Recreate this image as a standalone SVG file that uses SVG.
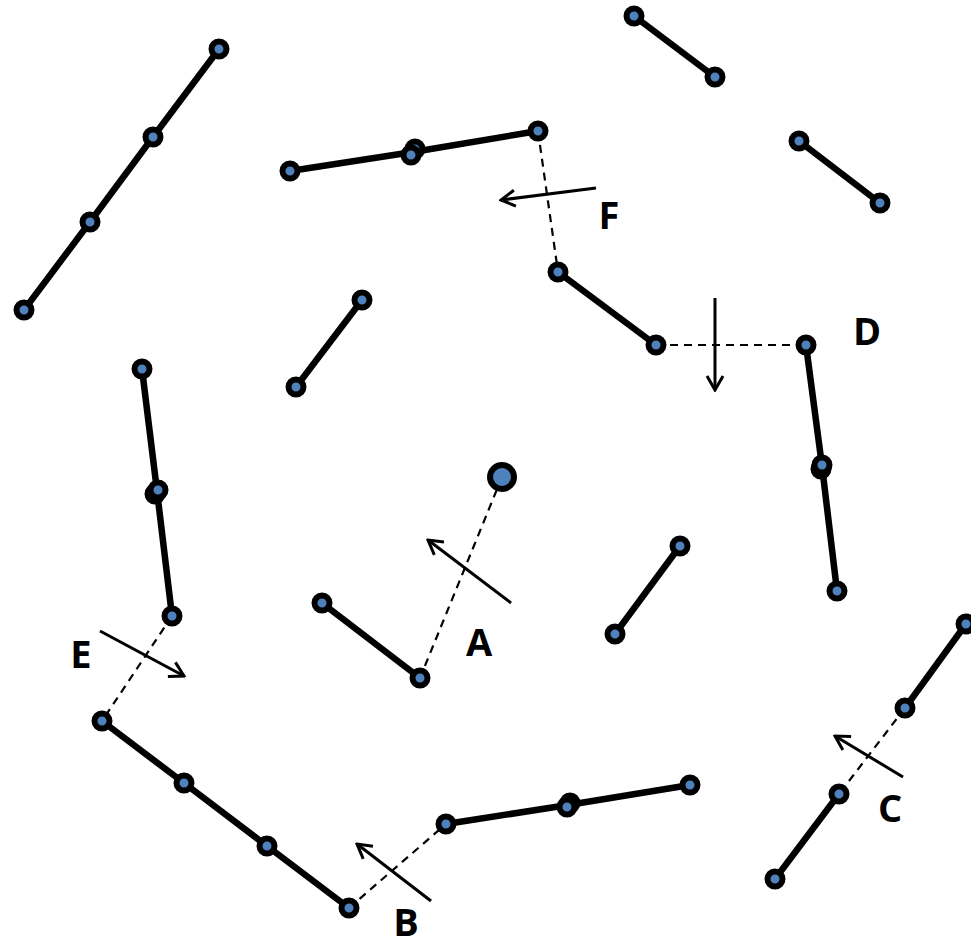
<svg xmlns="http://www.w3.org/2000/svg" width="971" height="948" viewBox="0 0 971 948">
<style>
.s{stroke:#000;stroke-width:6.5;fill:none;stroke-linecap:round}
.d{stroke:#000;stroke-width:2.2;fill:none;stroke-dasharray:8 6}
.a{stroke:#000;stroke-width:3;fill:none}
.n{fill:#4F81BD;stroke:#000;stroke-width:6}
.b{fill:#4F81BD;stroke:#000;stroke-width:6}
.t{font-family:"Open Sans","Liberation Sans",sans-serif;font-weight:bold;font-size:38px;fill:#000}
</style>
<defs>
<marker id="ah" viewBox="0 0 20 20" refX="18" refY="10" markerWidth="20" markerHeight="20" markerUnits="userSpaceOnUse" orient="auto">
<polyline points="4,2 18,10 4,18" fill="none" stroke="#000" stroke-width="3"/>
</marker>
</defs>
<g id="connectors">
<polyline class="s" points="219,49 153,137 90,222 24,310"/>
<polyline class="s" points="290,171 413,152 538,131"/>
<line class="d" x1="538" y1="131" x2="558" y2="272"/>
<line class="s" x1="558" y1="272" x2="656" y2="345"/>
<line class="d" x1="656" y1="345" x2="806" y2="345"/>
<polyline class="s" points="806,345 822,466 837,591"/>
<line class="s" x1="634" y1="16" x2="715" y2="77"/>
<line class="s" x1="799" y1="141" x2="880" y2="203"/>
<line class="s" x1="362" y1="300" x2="296" y2="387"/>
<polyline class="s" points="142,369 157,491 172,616"/>
<line class="d" x1="502" y1="477" x2="420" y2="678"/>
<line class="s" x1="322" y1="603" x2="420" y2="678"/>
<line class="s" x1="680" y1="546" x2="615" y2="634"/>
<line class="d" x1="172" y1="616" x2="102" y2="721"/>
<polyline class="s" points="102,721 184,783 267,846 349,908"/>
<line class="d" x1="349" y1="908" x2="446" y2="824"/>
<polyline class="s" points="446,824 568,805 690,785"/>
<line class="s" x1="966" y1="624" x2="905" y2="708"/>
<line class="d" x1="905" y1="708" x2="839" y2="794"/>
<line class="s" x1="839" y1="794" x2="775" y2="879"/>
<line class="a" x1="596" y1="188" x2="501" y2="200" marker-end="url(#ah)"/>
<line class="a" x1="715" y1="298" x2="715" y2="390" marker-end="url(#ah)"/>
<line class="a" x1="511" y1="603" x2="428" y2="540" marker-end="url(#ah)"/>
<line class="a" x1="100" y1="631" x2="184" y2="676" marker-end="url(#ah)"/>
<line class="a" x1="431" y1="901" x2="357" y2="844" marker-end="url(#ah)"/>
<line class="a" x1="903" y1="777" x2="835" y2="736" marker-end="url(#ah)"/>
</g>
<g id="nodes">
<circle class="n" cx="219" cy="49" r="7.5"/>
<circle class="n" cx="153" cy="137" r="7.5"/>
<circle class="n" cx="90" cy="222" r="7.5"/>
<circle class="n" cx="24" cy="310" r="7.5"/>
<circle class="n" cx="290" cy="171" r="7.5"/>
<circle class="n" cx="415" cy="149" r="7.5"/>
<circle class="n" cx="411" cy="155" r="7.5"/>
<circle class="n" cx="538" cy="131" r="7.5"/>
<circle class="n" cx="558" cy="272" r="7.5"/>
<circle class="n" cx="656" cy="345" r="7.5"/>
<circle class="n" cx="806" cy="345" r="7.5"/>
<circle class="n" cx="821" cy="469" r="7.5"/>
<circle class="n" cx="822" cy="465" r="7.5"/>
<circle class="n" cx="837" cy="591" r="7.5"/>
<circle class="n" cx="634" cy="16" r="7.5"/>
<circle class="n" cx="715" cy="77" r="7.5"/>
<circle class="n" cx="799" cy="141" r="7.5"/>
<circle class="n" cx="880" cy="203" r="7.5"/>
<circle class="n" cx="362" cy="300" r="7.5"/>
<circle class="n" cx="296" cy="387" r="7.5"/>
<circle class="n" cx="142" cy="369" r="7.5"/>
<circle class="n" cx="155" cy="494" r="7.5"/>
<circle class="n" cx="158" cy="490" r="7.5"/>
<circle class="n" cx="172" cy="616" r="7.5"/>
<circle class="b" cx="502" cy="477" r="12"/>
<circle class="n" cx="322" cy="603" r="7.5"/>
<circle class="n" cx="420" cy="678" r="7.5"/>
<circle class="n" cx="680" cy="546" r="7.5"/>
<circle class="n" cx="615" cy="634" r="7.5"/>
<circle class="n" cx="102" cy="721" r="7.5"/>
<circle class="n" cx="184" cy="783" r="7.5"/>
<circle class="n" cx="267" cy="846" r="7.5"/>
<circle class="n" cx="349" cy="908" r="7.5"/>
<circle class="n" cx="446" cy="824" r="7.5"/>
<circle class="n" cx="570" cy="803" r="7.5"/>
<circle class="n" cx="567" cy="807" r="7.5"/>
<circle class="n" cx="690" cy="785" r="7.5"/>
<circle class="n" cx="966" cy="624" r="7.5"/>
<circle class="n" cx="905" cy="708" r="7.5"/>
<circle class="n" cx="839" cy="794" r="7.5"/>
<circle class="n" cx="775" cy="879" r="7.5"/>
</g>
<g id="labels">
<text class="t" x="406" y="936" text-anchor="middle">B</text>
<text class="t" x="609" y="229" text-anchor="middle">F</text>
<text class="t" x="867" y="345" text-anchor="middle">D</text>
<text class="t" x="479" y="656" text-anchor="middle">A</text>
<text class="t" x="81" y="668" text-anchor="middle">E</text>
<text class="t" x="890" y="822" text-anchor="middle">C</text>
</g>
</svg>
